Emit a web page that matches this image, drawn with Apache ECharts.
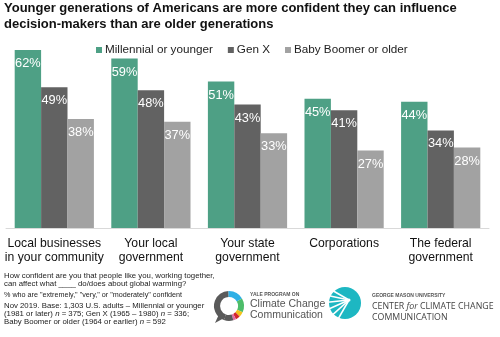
<!DOCTYPE html>
<html>
<head>
<meta charset="utf-8">
<script src="https://cdn.jsdelivr.net/npm/echarts@6/dist/echarts.min.js"></script>
<style>
  html, body { margin: 0; padding: 0; background: #fff; }
  #chart { width: 500px; height: 337px; }
</style>
</head>
<body>
<div id="chart"></div>
<script>
// Share of each generation confident they can influence each decision-maker (%)
const categories = [
  'Local businesses\nin your community',
  'Your local\ngovernment',
  'Your state\ngovernment',
  'Corporations',
  'The federal\ngovernment'
];
const seriesNames = ['Millennial or younger', 'Gen X', 'Baby Boomer or older'];
const millennial = [62, 59, 51, 45, 44];
const genX = [49, 48, 43, 41, 34];
const boomer = [38, 37, 33, 27, 28];
const seriesColors = ['#4ea085', '#626262', '#a2a2a2'];

const titleText = 'Younger generations of Americans are more confident they can influence\ndecision-makers than are older generations';
const noteQuestion = 'How confident are you that people like you, working together,\ncan affect what ____ do/does about global warming?';
const noteShare = '% who are "extremely," "very," or "moderately" confident';

const FONT = '"Liberation Sans", Arial, sans-serif';
const LOGO_FONT = '"Open Sans", "Liberation Sans", sans-serif';

const chart = echarts.init(document.getElementById('chart'), null, { renderer: 'canvas' });

function barSeries(name, data, color) {
  return {
    name: name,
    type: 'bar',
    data: data,
    barGap: '0%',
    barCategoryGap: '18%',
    itemStyle: { color: color },
    label: {
      show: true,
      position: 'insideTop',
      distance: 7,
      formatter: '{c}%',
      color: '#ffffff',
      fontFamily: FONT,
      fontSize: 12.8
    },
    emphasis: { disabled: true },
    animation: false
  };
}

// Yale ring logo: coloured arcs on a grey ring
const ringCx = 229, ringCy = 306, ringR = 12, ringW = 6;
const deg = Math.PI / 180;
const ringSegments = [
  { from: 110, to: 268, color: '#5a5a5a' },
  { from: 268, to: 330, color: '#2fb0e6' },
  { from: 330, to: 385, color: '#4dbd6a' },
  { from: 385, to: 405, color: '#f2c21b' },
  { from: 405, to: 422, color: '#d4262c' },
  { from: 422, to: 433, color: '#e26aa4' },
  { from: 433, to: 470, color: '#5a5a5a' }
];
const ringArcs = ringSegments.map(s => ({
  type: 'arc',
  shape: { cx: ringCx, cy: ringCy, r: ringR, startAngle: s.from * deg, endAngle: s.to * deg, clockwise: true },
  style: { stroke: s.color, lineWidth: ringW, fill: null }
}));

// Mason sun logo: teal disc with fanned white rays
const sunCx = 345, sunCy = 303, sunR = 16;
const rayAngles = [150, 168, 186, 204, 222, 240];
const rays = rayAngles.map(a => ({
  type: 'line',
  shape: { x1: sunCx + 4, y1: sunCy - 3, x2: sunCx + 4 + Math.cos(a * deg) * 24, y2: sunCy - 3 - Math.sin(a * deg) * 24 },
  style: { stroke: '#ffffff', lineWidth: 1.6 }
}));

chart.setOption({
  backgroundColor: '#ffffff',
  animation: false,
  textStyle: { fontFamily: FONT },
  title: {
    text: titleText,
    left: 4,
    top: 0,
    padding: 0,
    textStyle: { fontFamily: FONT, fontSize: 13, fontWeight: 'bold', color: '#111', lineHeight: 16 }
  },
  legend: {
    data: seriesNames,
    left: 91,
    top: 39,
    icon: 'rect',
    itemWidth: 6,
    itemHeight: 6,
    itemGap: 15,
    textStyle: { fontFamily: FONT, fontSize: 11.7, color: '#222', padding: [0, 0, 0, -2] }
  },
  grid: { left: 6, right: 11, top: 50, bottom: 109, containLabel: false },
  xAxis: {
    type: 'category',
    data: categories,
    axisLine: { lineStyle: { color: '#d9d9d9', width: 1 } },
    axisTick: { show: false },
    axisLabel: {
      interval: 0,
      margin: 9,
      fontFamily: FONT,
      fontSize: 12.2,
      lineHeight: 13.5,
      color: '#111'
    }
  },
  yAxis: {
    type: 'value',
    min: 0,
    max: 62,
    show: false,
    splitLine: { show: false }
  },
  series: [
    barSeries(seriesNames[0], millennial, seriesColors[0]),
    barSeries(seriesNames[1], genX, seriesColors[1]),
    barSeries(seriesNames[2], boomer, seriesColors[2])
  ],
  graphic: [
    {
      type: 'text', left: 4, top: 272,
      style: { text: noteQuestion, fontFamily: FONT, fontSize: 7.8, lineHeight: 8.2, fill: '#222' }
    },
    {
      type: 'text', left: 4, top: 291.5,
      style: { text: noteShare, fontFamily: FONT, fontSize: 7.2, fill: '#222' }
    },
    {
      type: 'text', left: 4, top: 302,
      style: {
        text: 'Nov 2019. Base: 1,303 U.S. adults – Millennial or younger\n(1981 or later) {i|n} = 375; Gen X (1965 – 1980) {i|n} = 336;\nBaby Boomer or older (1964 or earlier) {i|n} = 592',
        fontFamily: FONT, fontSize: 7.8, lineHeight: 7.9, fill: '#222',
        rich: { i: { fontStyle: 'italic', fontFamily: FONT, fontSize: 7.8 } }
      }
    },
    ...ringArcs,
    {
      type: 'polygon',
      shape: { points: [[ringCx - 9, ringCy + 6], [ringCx - 14, ringCy + 17], [ringCx - 3, ringCy + 11]] },
      style: { fill: '#5a5a5a' }
    },
    {
      type: 'text', left: 250, top: 292.5,
      style: { text: 'YALE PROGRAM ON', fontFamily: FONT, fontSize: 5, fill: '#555', fontWeight: 'bold' }
    },
    {
      type: 'text', left: 250, top: 299,
      style: { text: 'Climate Change\nCommunication', fontFamily: FONT, fontSize: 10.5, lineHeight: 10.5, fill: '#555' }
    },
    {
      type: 'circle',
      shape: { cx: sunCx, cy: sunCy, r: sunR },
      style: { fill: '#1db7c2' }
    },
    ...rays,
    {
      type: 'circle',
      shape: { cx: sunCx + 4, cy: sunCy - 3, r: 1.5 },
      style: { fill: '#ffffff' }
    },
    {
      type: 'text', left: 372, top: 293,
      style: { text: 'GEORGE MASON UNIVERSITY', fontFamily: FONT, fontSize: 5, fill: '#555', fontWeight: 'bold' }
    },
    {
      type: 'text', left: 372, top: 301,
      style: {
        text: 'CENTER {f|for} CLIMATE CHANGE\nCOMMUNICATION',
        fontFamily: LOGO_FONT, fontSize: 8.8, lineHeight: 11, fill: '#444',
        rich: { f: { fontStyle: 'italic', fontFamily: LOGO_FONT, fontSize: 8.8, fill: '#444' } }
      }
    }
  ]
});
</script>
</body>
</html>
